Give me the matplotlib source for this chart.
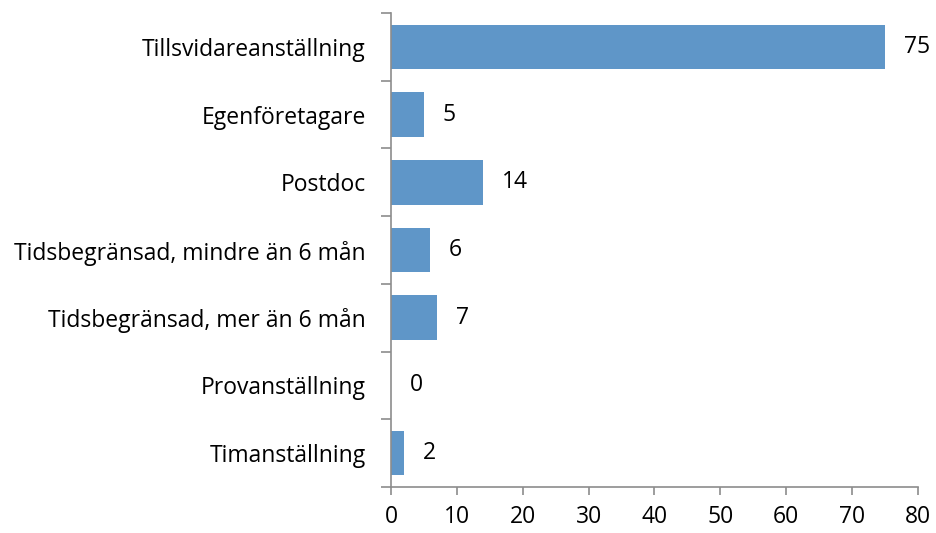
import matplotlib

matplotlib.use("Agg")

import matplotlib.pyplot as plt
import numpy as np

categories = [
    "Tillsvidareanställning",
    "Egenföretagare",
    "Postdoc",
    "Tidsbegränsad, mindre än 6 mån",
    "Tidsbegränsad, mer än 6 mån",
    "Provanställning",
    "Timanställning",
]
values = [75, 5, 14, 6, 7, 0, 2]
x_ticks = [0, 10, 20, 30, 40, 50, 60, 70, 80]

plt.rcParams["font.family"] = ["Open Sans", "DejaVu Sans"]

fig = plt.figure(figsize=(9.36, 5.33), dpi=100)
ax = fig.add_axes([0.4177, 0.0863, 0.5631, 0.8893])

y = np.arange(len(categories))
ax.barh(y, values, height=0.66, color="#5f96c8")
ax.set_ylim(len(categories) - 0.5, -0.5)
ax.set_xlim(0, 80)

for yi, v in zip(y, values):
    ax.text(v + 2.8, yi, str(v), va="center", ha="left", fontsize=16.5)

# category labels at centers, tick marks at the boundaries
ax.set_yticks(np.arange(-0.5, len(categories), 1.0))
ax.set_yticklabels([])
ax.set_yticks(y, minor=True)
ax.set_yticklabels(categories, minor=True, fontsize=16.5)
ax.tick_params(axis="y", which="major", length=7, color="#8c8c8c", width=1.2)
ax.tick_params(axis="y", which="minor", length=0, pad=18)

ax.set_xticks(x_ticks)
ax.set_xticklabels([str(t) for t in x_ticks], fontsize=16.5)
ax.tick_params(axis="x", length=6, color="#8c8c8c", width=1.2, pad=7)

for side in ["top", "right"]:
    ax.spines[side].set_visible(False)
for side in ["left", "bottom"]:
    ax.spines[side].set_color("#8c8c8c")
    ax.spines[side].set_linewidth(1.2)

fig.savefig("out.png", dpi=100)
